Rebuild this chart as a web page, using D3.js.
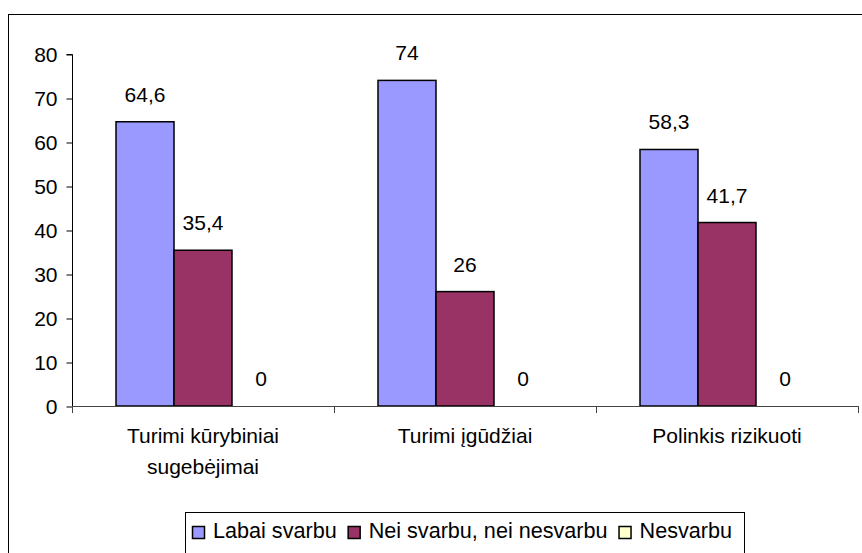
<!DOCTYPE html>
<html>
<head>
<meta charset="utf-8">
<script src="https://cdnjs.cloudflare.com/ajax/libs/d3/7.8.5/d3.min.js"></script>
<style>
  body { margin: 0; background: #fff; }
  svg text { font-family: "Liberation Sans", Arial, sans-serif; fill: #000; }
</style>
</head>
<body>
<svg id="chart"></svg>
<script>
// Duomenys
let categories = [["Turimi kūrybiniai", "sugebėjimai"], ["Turimi įgūdžiai"], ["Polinkis rizikuoti"]];
let seriesNames = ["Labai svarbu", "Nei svarbu, nei nesvarbu", "Nesvarbu"];
let labaiSvarbu = [64.6, 74, 58.3];
let neiSvarbu = [35.4, 26, 41.7];
let nesvarbu = [0, 0, 0];
let yTicks = [0, 10, 20, 30, 40, 50, 60, 70, 80];
let colors = ["#9999FF", "#993366", "#FFFFCC"];

let width = 862, height = 553;
let svg = d3.select("#chart").attr("width", width).attr("height", height);

// rėmelis
svg.append("rect")
  .attr("x", 8.5).attr("y", 14.5)
  .attr("width", 900).attr("height", 600)
  .attr("fill", "none").attr("stroke", "#000").attr("stroke-width", 1);

let x0 = 72, x1 = 858, yTop = 54, yBottom = 406;

let x = d3.scaleBand().domain(d3.range(categories.length)).range([x0, x1]).paddingInner(0).paddingOuter(0);
let y = d3.scaleLinear().domain([0, 80]).range([yBottom, yTop]);
let series = [labaiSvarbu, neiSvarbu, nesvarbu];
let groupW = x.bandwidth() * 174 / 262;
let xs = d3.scaleBand().domain(d3.range(series.length))
  .range([(x.bandwidth() - groupW) / 2, (x.bandwidth() + groupW) / 2]);

let fmt = d3.formatLocale({decimal: ",", thousands: " ", grouping: [3], currency: ["", ""]}).format("~g");

// y ašis
let yAxis = d3.axisLeft(y).tickValues(yTicks).tickSize(6).tickPadding(9);
let gy = svg.append("g").attr("transform", `translate(${x0 + 0.5},0)`).call(yAxis);
gy.select(".domain").attr("stroke", "#000").attr("d", `M-6,${yTop + 0.5}H0V${yBottom + 0.5}`);
gy.selectAll(".tick line").attr("stroke", "#000").attr("transform", "translate(0,0.5)");
gy.selectAll(".tick text").style("font-size", "21px").attr("dy", "0.35em")
  .style("font-family", "'Liberation Sans', Arial, sans-serif");

// stulpeliai
let groups = svg.append("g").selectAll("g")
  .data(categories).join("g")
  .attr("transform", (d, i) => `translate(${x(i)},0)`);

series.forEach((vals, s) => {
  groups.append("rect")
    .attr("x", (d, i) => xs(s))
    .attr("y", (d, i) => y(vals[i]))
    .attr("width", xs.bandwidth())
    .attr("height", (d, i) => y(0) - y(vals[i]))
    .attr("fill", colors[s])
    .attr("stroke", "#000")
    .attr("stroke-width", 1.5);

  groups.append("text")
    .attr("x", (d, i) => xs(s) + xs.bandwidth() / 2)
    .attr("y", (d, i) => y(vals[i]) - 20)
    .attr("text-anchor", "middle")
    .style("font-size", "21px")
    .text((d, i) => fmt(vals[i]));
});

// x ašis
let xAxisG = svg.append("g");
xAxisG.append("line")
  .attr("x1", x0).attr("x2", x1)
  .attr("y1", yBottom + 0.5).attr("y2", yBottom + 0.5)
  .attr("stroke", "#444");
xAxisG.selectAll("line.tk")
  .data(d3.range(categories.length + 1)).join("line")
  .attr("class", "tk")
  .attr("x1", i => x0 + i * x.bandwidth() + 0.5).attr("x2", i => x0 + i * x.bandwidth() + 0.5)
  .attr("y1", yBottom).attr("y2", yBottom + 7)
  .attr("stroke", "#444");

// kategorijų pavadinimai
groups.append("text")
  .attr("x", x.bandwidth() / 2)
  .attr("y", 443)
  .attr("text-anchor", "middle")
  .style("font-size", "21px")
  .selectAll("tspan")
  .data(d => d).join("tspan")
  .attr("x", x.bandwidth() / 2)
  .attr("dy", (d, i) => i === 0 ? 0 : 31)
  .text(d => d);

// legenda
let legend = svg.append("g");
legend.append("rect")
  .attr("x", 185.5).attr("y", 512.5)
  .attr("width", 559).attr("height", 60)
  .attr("fill", "#fff").attr("stroke", "#000");

let lx = 192;
seriesNames.forEach((name, i) => {
  legend.append("rect")
    .attr("x", lx + 0.5).attr("y", 526.5)
    .attr("width", 12).attr("height", 12)
    .attr("fill", colors[i]).attr("stroke", "#000").attr("stroke-width", 1.5);
  let t = legend.append("text")
    .attr("x", lx + 21).attr("y", 538)
    .style("font-size", "21.6px")
    .text(name);
  lx += 21 + t.node().getComputedTextLength() + 11;
});
</script>
</body>
</html>
